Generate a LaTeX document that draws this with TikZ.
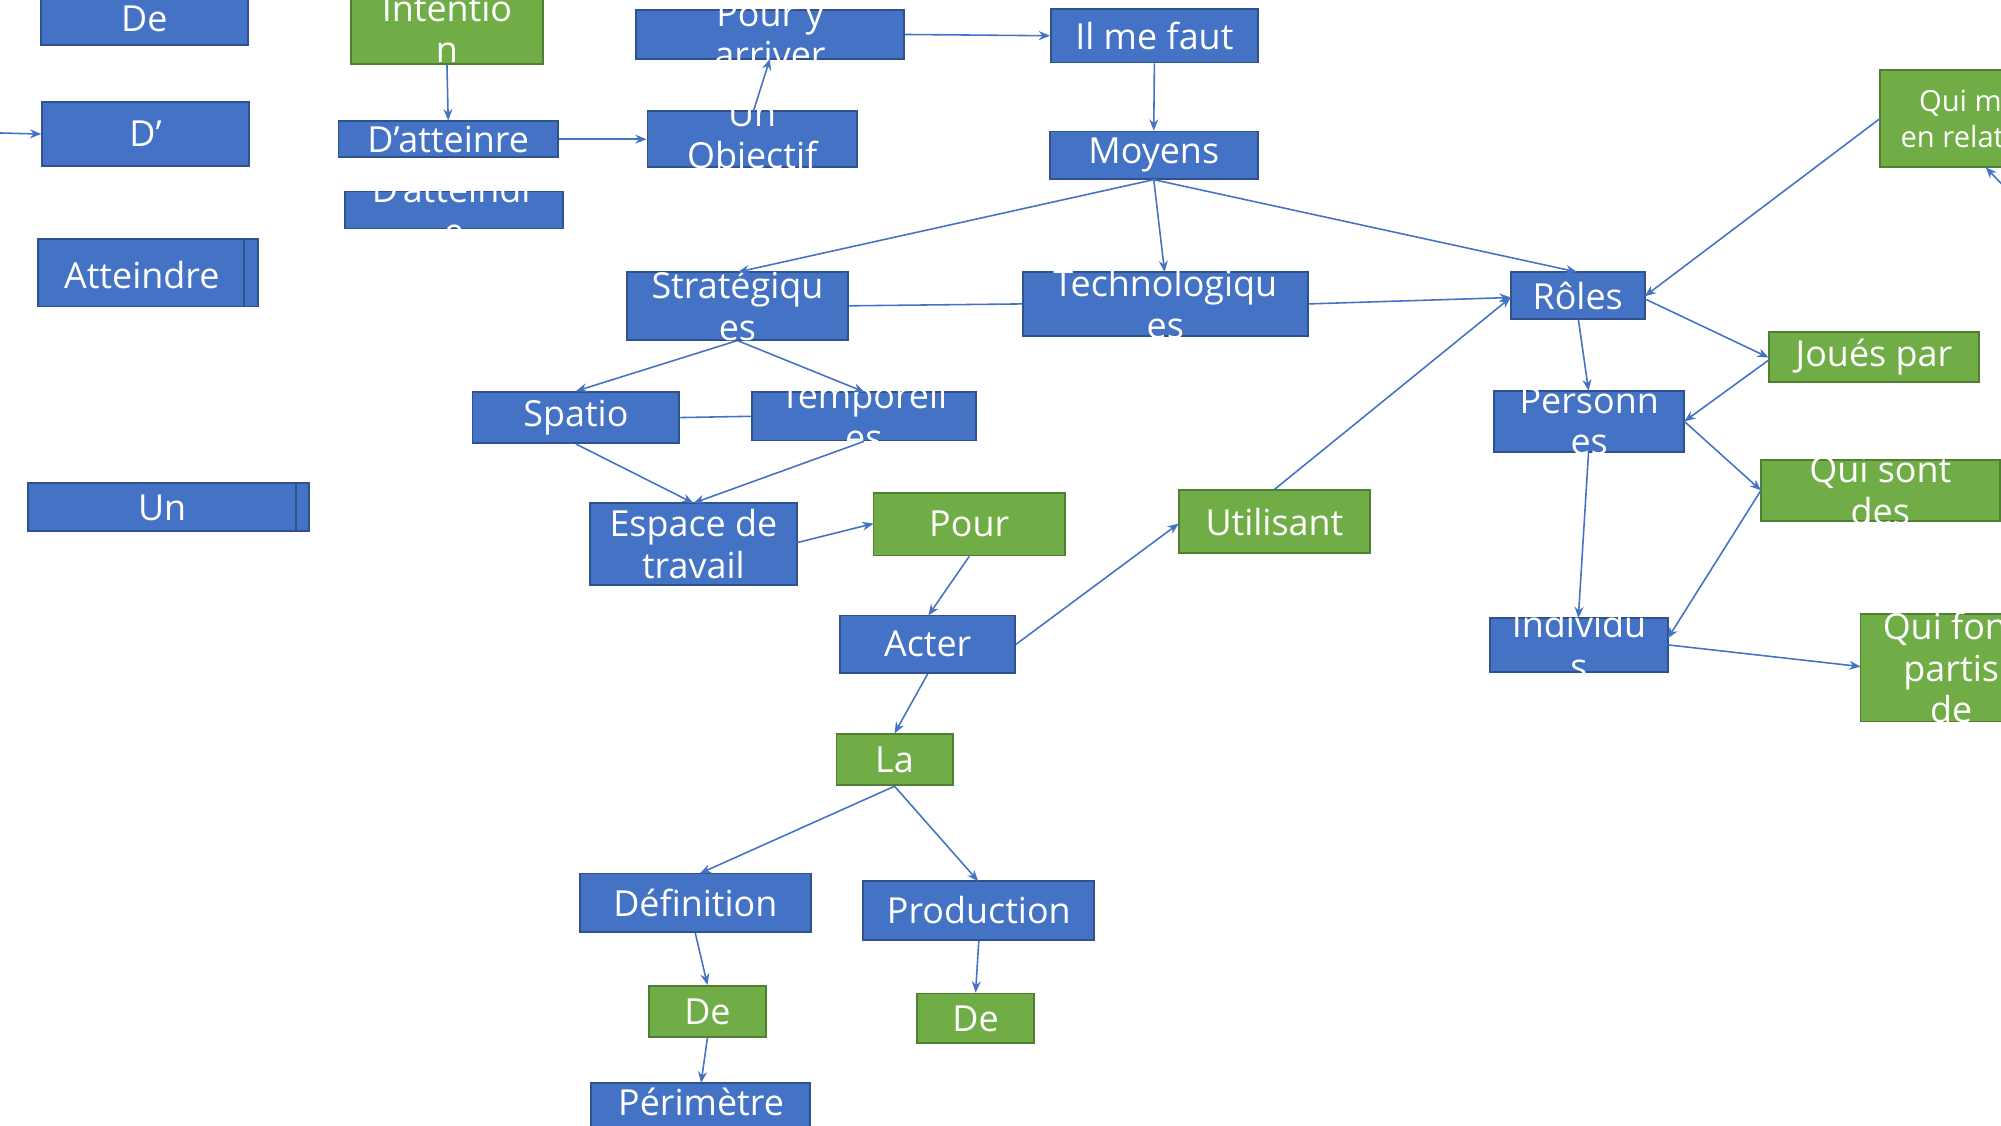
\documentclass[tikz,border=0pt]{standalone}
\usepackage{fontspec}
\setmainfont{Open Sans}
\usetikzlibrary{fit,arrows.meta}
\definecolor{bf}{HTML}{4472C4}\definecolor{bd}{HTML}{2F528F}
\definecolor{gf}{HTML}{70AD47}\definecolor{gd}{HTML}{507E32}
\tikzset{
 bbox/.style={fill=bf,draw=bd,line width=0.8pt,inner sep=0pt},
 gbox/.style={fill=gf,draw=gd,line width=0.8pt,inner sep=0pt},
 txt/.style={text=white,align=center,font=\fontsize{16}{18.5}\selectfont,inner sep=0pt},
 arr/.style={draw=bf,line width=0.7pt,-{Stealth[length=5pt,width=4pt]}},
 ln/.style={draw=bf,line width=0.7pt}
}
\newcommand{\bx}[7]{\node[#6,fit={(#2,#3)(#4,#5)}] (#1) {};\node[txt] at (#1) {#7};}
\begin{document}
\begin{tikzpicture}[x=0.02cm,y=-0.02cm]
\useasboundingbox (0,0) rectangle (1567,881);
\bx{de1}{32}{-5}{194}{35}{bbox}{De}
\bx{int}{275}{-5}{425}{50}{gbox}{Intentio\\n}
\bx{pya}{498}{8}{708}{46}{bbox}{Pour y\\arriver}
\bx{imf}{823}{7}{985}{49}{bbox}{Il me faut}
\bx{dap}{33}{80}{195}{130}{bbox}{D’}
\bx{dat}{265}{95}{437}{123}{bbox}{D’atteinre}
\bx{obj}{507}{87}{671}{131}{bbox}{Un\\Objectif}
\bx{moy}{822}{103}{985}{140}{bbox}{Moyens}
\node[gbox,fit={(1472,55)(1620,131)}] (qmr) {};
\node[txt,anchor=west,font=\fontsize{13}{16}\selectfont,align=center] at (1488,93) {Qui met\\en relation};
\bx{dat2}{270}{150}{441}{179}{bbox}{D’atteindr\\e}
\bx{att}{30}{187}{202}{240}{bbox}{}
\draw[bd,line width=0.8pt] (191,187)--(191,240);
\node[txt] at (111,215) {Atteindre};
\bx{str}{491}{213}{664}{266}{bbox}{Stratégiqu\\es}
\bx{tec}{801}{213}{1024}{263}{bbox}{Technologiqu\\es}
\bx{rol}{1183}{213}{1288}{250}{bbox}{Rôles}
\bx{jou}{1385}{260}{1550}{299}{gbox}{Joués par}
\bx{spa}{370}{307}{532}{347}{bbox}{Spatio}
\bx{tem}{589}{307}{764}{345}{bbox}{Temporell\\es}
\bx{per}{1170}{306}{1319}{354}{bbox}{Personn\\es}
\bx{qsd}{1379}{360}{1566}{408}{gbox}{Qui sont\\des}
\bx{un}{22}{378}{242}{416}{bbox}{}
\draw[bd,line width=0.8pt] (232,378)--(232,416);
\node[txt] at (127,398) {Un};
\bx{esp}{462}{394}{624}{458}{bbox}{Espace de\\travail}
\bx{pou}{684}{386}{834}{435}{gbox}{Pour}
\bx{uti}{923}{384}{1073}{433}{gbox}{Utilisant}
\bx{ind}{1167}{484}{1306}{526}{bbox}{Individu\\s}
\node[gbox,fit={(1457,481)(1600,565)}] (qfp) {};
\node[txt] at (1528,523) {Qui font\\partis\\de};
\bx{act}{658}{482}{795}{527}{bbox}{Acter}
\bx{la}{655}{575}{746}{615}{gbox}{La}
\bx{def}{454}{684}{635}{730}{bbox}{Définition}
\bx{pro}{676}{690}{857}{736}{bbox}{Production}
\bx{de2}{508}{772}{600}{812}{gbox}{De}
\bx{de3}{718}{778}{810}{817}{gbox}{De}
\node[bbox,fit={(463,848)(634,895)}] (per2) {};
\node[txt] at (549,863) {Périmètre};
\coordinate (l0) at (-5,104);
\coordinate (r0) at (1575,152);
\coordinate (b0) at (548,890);
\draw[arr] (l0) -- (dap.west);
\draw[arr] (int.south) -- (dat.north);
\draw[arr] (dat.east) -- (obj.west);
\draw[arr] (590,87) -- (603,46);
\draw[arr] (pya.east) -- (imf.west);
\draw[arr] (imf.south) -- (moy.north);
\draw[arr] (moy.south) -- (578,213);
\draw[arr] (moy.south) -- (912,213);
\draw[arr] (moy.south) -- (1235,213);
\draw[ln] (str.east) -- (tec.west);
\draw[arr] (tec.east) -- (1183,233);
\draw[arr] (1472,93) -- (1288,232);
\draw[arr] (r0) -- (1555,131);
\draw[arr] (1288,234) -- (1385,280);
\draw[arr] (1385,282) -- (1319,330);
\draw[arr] (1236,250) -- (1244,306);
\draw[arr] (1319,330) -- (1379,384);
\draw[arr] (1379,384) -- (1306,500);
\draw[arr] (1244,354) -- (1236,484);
\draw[arr] (1306,505) -- (1457,522);
\draw[arr] (str.south) -- (spa.north);
\draw[arr] (str.south) -- (677,307);
\draw[ln] (spa.east) -- (tem.west);
\draw[arr] (spa.south) -- (543,394);
\draw[arr] (tem.south) -- (543,394);
\draw[arr] (624,425) -- (684,410);
\draw[arr] (pou.south) -- (727,482);
\draw[arr] (act.east) -- (923,410);
\draw[arr] (uti.north) -- (1183,233);
\draw[arr] (act.south) -- (la.north);
\draw[arr] (la.south) -- (548,684);
\draw[arr] (la.south) -- (766,690);
\draw[arr] (def.south) -- (de2.north);
\draw[arr] (pro.south) -- (de3.north);
\draw[arr] (de2.south) -- (549,848);
\draw[ln] (549,880) -- (b0);
\end{tikzpicture}
\end{document}
